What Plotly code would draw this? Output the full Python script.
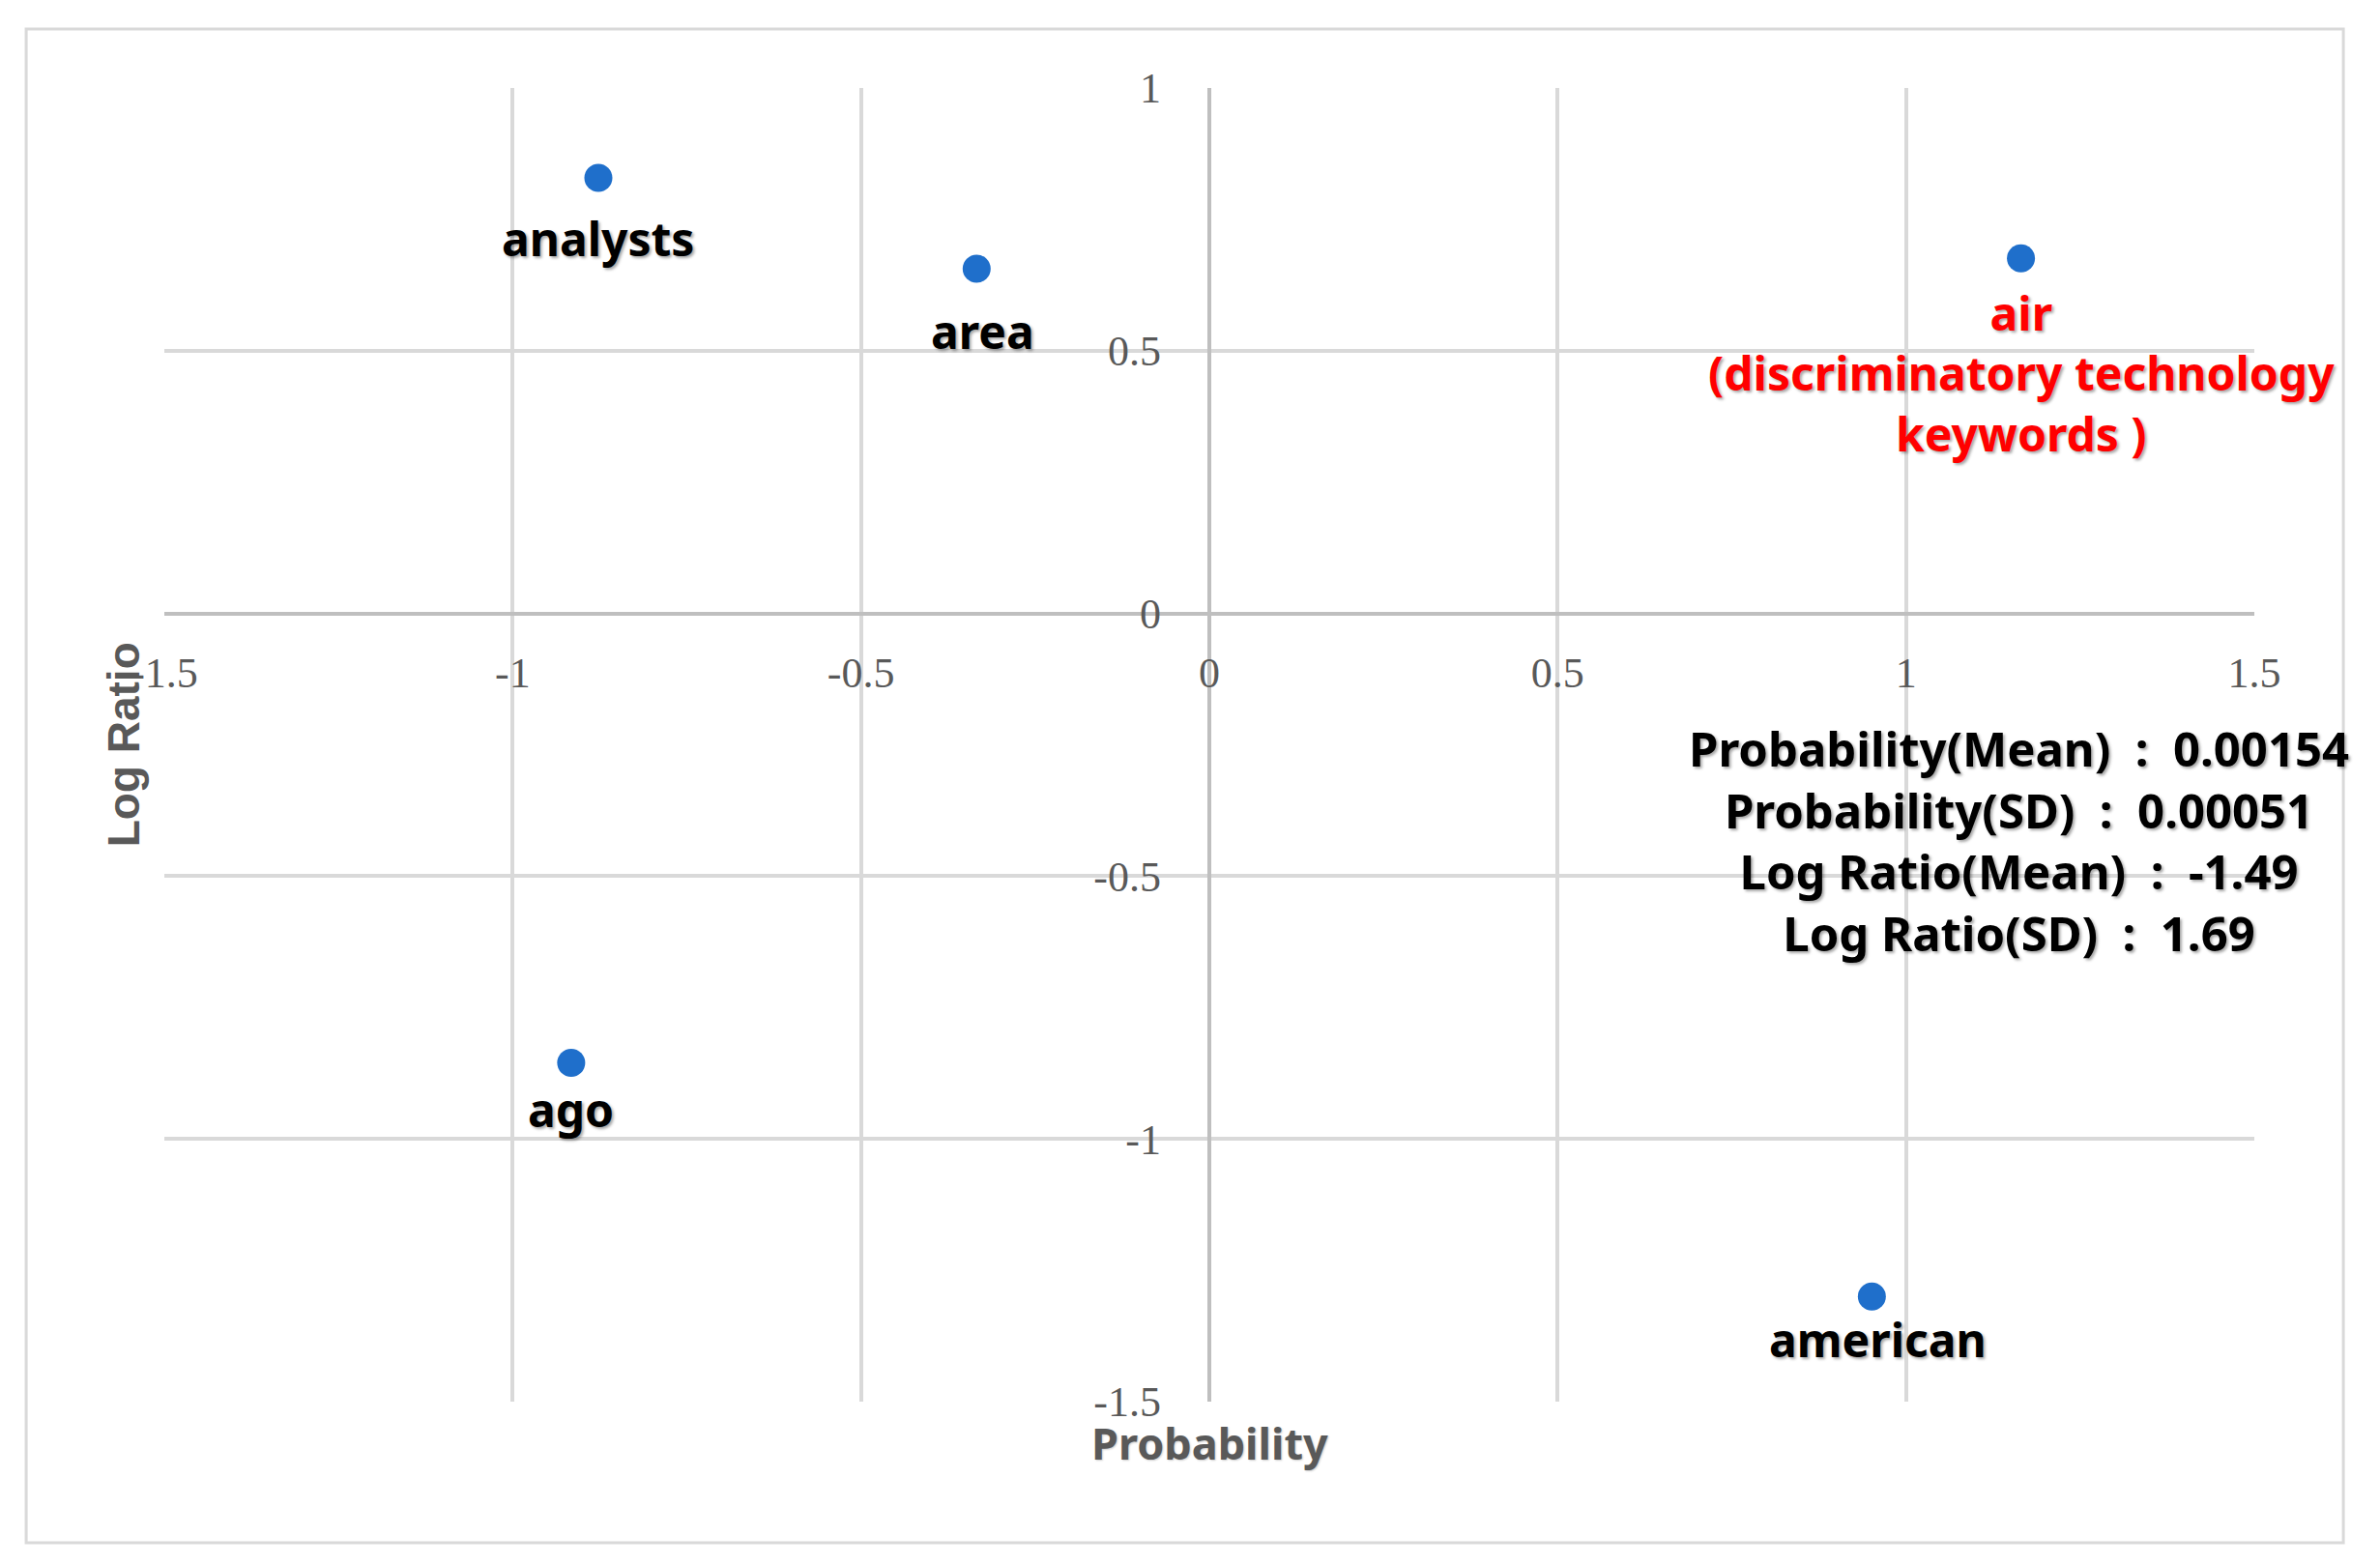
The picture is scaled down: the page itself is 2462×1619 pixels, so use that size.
import plotly.graph_objects as go

# ---- data ----
words = ["analysts", "area", "air", "ago", "american"]
probability = [-0.877, -0.334, 1.165, -0.916, 0.951]
log_ratio = [0.829, 0.656, 0.676, -0.855, -1.300]
highlight_word = "air"
highlight_note = "(discriminatory technology<br>keywords )"
stats_lines = [
    "Probability(Mean)&nbsp; : &nbsp;0.00154",
    "Probability(SD)&nbsp; : &nbsp;0.00051",
    "Log Ratio(Mean)&nbsp; : &nbsp;-1.49",
    "Log Ratio(SD)&nbsp; : &nbsp;1.69",
]
x_ticks = [-1.5, -1, -0.5, 0, 0.5, 1, 1.5]
y_ticks = [-1.5, -1, -0.5, 0, 0.5, 1]
x_title = "Probability"
y_title = "Log Ratio"

# ---- styling ----
W, H = 2446, 1603
ML, MR, MT, MB = 162, 122, 83, 161
label_font = "Noto Sans"
label_size = 48
shadow = "2px 2px 3px rgba(0,0,0,0.35)"
label_yshift = {"analysts": -28, "area": -30, "air": -22, "ago": -14, "american": -10}
label_xshift = {"area": 6, "american": 6}
marker_color = "#1F6FCB"
grid_color = "#D9D9D9"
zero_color = "#BFBFBF"
tick_color = "#595959"

fig = go.Figure()
fig.add_trace(go.Scatter(
    x=probability, y=log_ratio, mode="markers",
    marker=dict(size=29, color=marker_color),
    hoverinfo="skip", showlegend=False,
))

for w, px, ly in zip(words, probability, log_ratio):
    is_hl = (w == highlight_word)
    txt = w + ("<br>" + highlight_note if is_hl else "")
    fig.add_annotation(
        x=px, y=ly, xref="x", yref="y", text=txt, showarrow=False,
        xanchor="center", yanchor="top",
        yshift=label_yshift.get(w, -25), xshift=label_xshift.get(w, 0),
        align="center",
        font=dict(family=label_font, size=label_size, weight="bold",
                  color="#FF0000" if is_hl else "#000000", shadow=shadow),
    )

fig.add_annotation(
    x=1.162, y=-0.433, xref="x", yref="y", text="<br>".join(stats_lines),
    showarrow=False, xanchor="center", yanchor="middle", align="center",
    font=dict(family=label_font, size=49, weight="bold",
              color="#000000", shadow=shadow),
)

# axis titles
fig.add_annotation(
    x=0.5, y=-0.031, xref="paper", yref="paper", text=x_title, showarrow=False,
    xanchor="center", yanchor="middle",
    font=dict(family=label_font, size=45, weight="bold", color=tick_color,
              shadow="1px 1px 2px rgba(0,0,0,0.2)"),
)
fig.add_annotation(
    x=-0.0195, y=0.5, xref="paper", yref="paper", text=y_title, showarrow=False,
    textangle=-90, xanchor="center", yanchor="middle",
    font=dict(family="Liberation Sans", size=46, weight="bold", color=tick_color),
)

# outer border
fig.add_shape(type="rect", xref="paper", yref="paper",
              x0=-0.0661, x1=1.0426, y0=-0.1074, y1=1.0449,
              line=dict(color=grid_color, width=3), layer="below")

fig.update_xaxes(
    range=[-1.5, 1.5], tickvals=x_ticks, ticktext=[f"{v:g}" for v in x_ticks],
    showgrid=True, gridcolor=grid_color, gridwidth=4,
    zeroline=True, zerolinecolor=zero_color, zerolinewidth=4,
    showline=False, anchor="free", position=0.6,
    ticks="", ticklabelstandoff=31,
    tickfont=dict(family="Liberation Serif", size=44, color=tick_color),
)
fig.update_yaxes(
    range=[-1.5, 1], tickvals=y_ticks, ticktext=[f"{v:g}" for v in y_ticks],
    showgrid=True, gridcolor=grid_color, gridwidth=4,
    zeroline=True, zerolinecolor=zero_color, zerolinewidth=4,
    showline=False, anchor="free", position=0.5,
    ticks="", ticklabelstandoff=50,
    tickfont=dict(family="Liberation Serif", size=44, color=tick_color),
)

fig.update_layout(
    width=W, height=H,
    margin=dict(l=ML, r=MR, t=MT, b=MB),
    plot_bgcolor="white", paper_bgcolor="white",
    showlegend=False,
)

fig.write_html("out.html")
